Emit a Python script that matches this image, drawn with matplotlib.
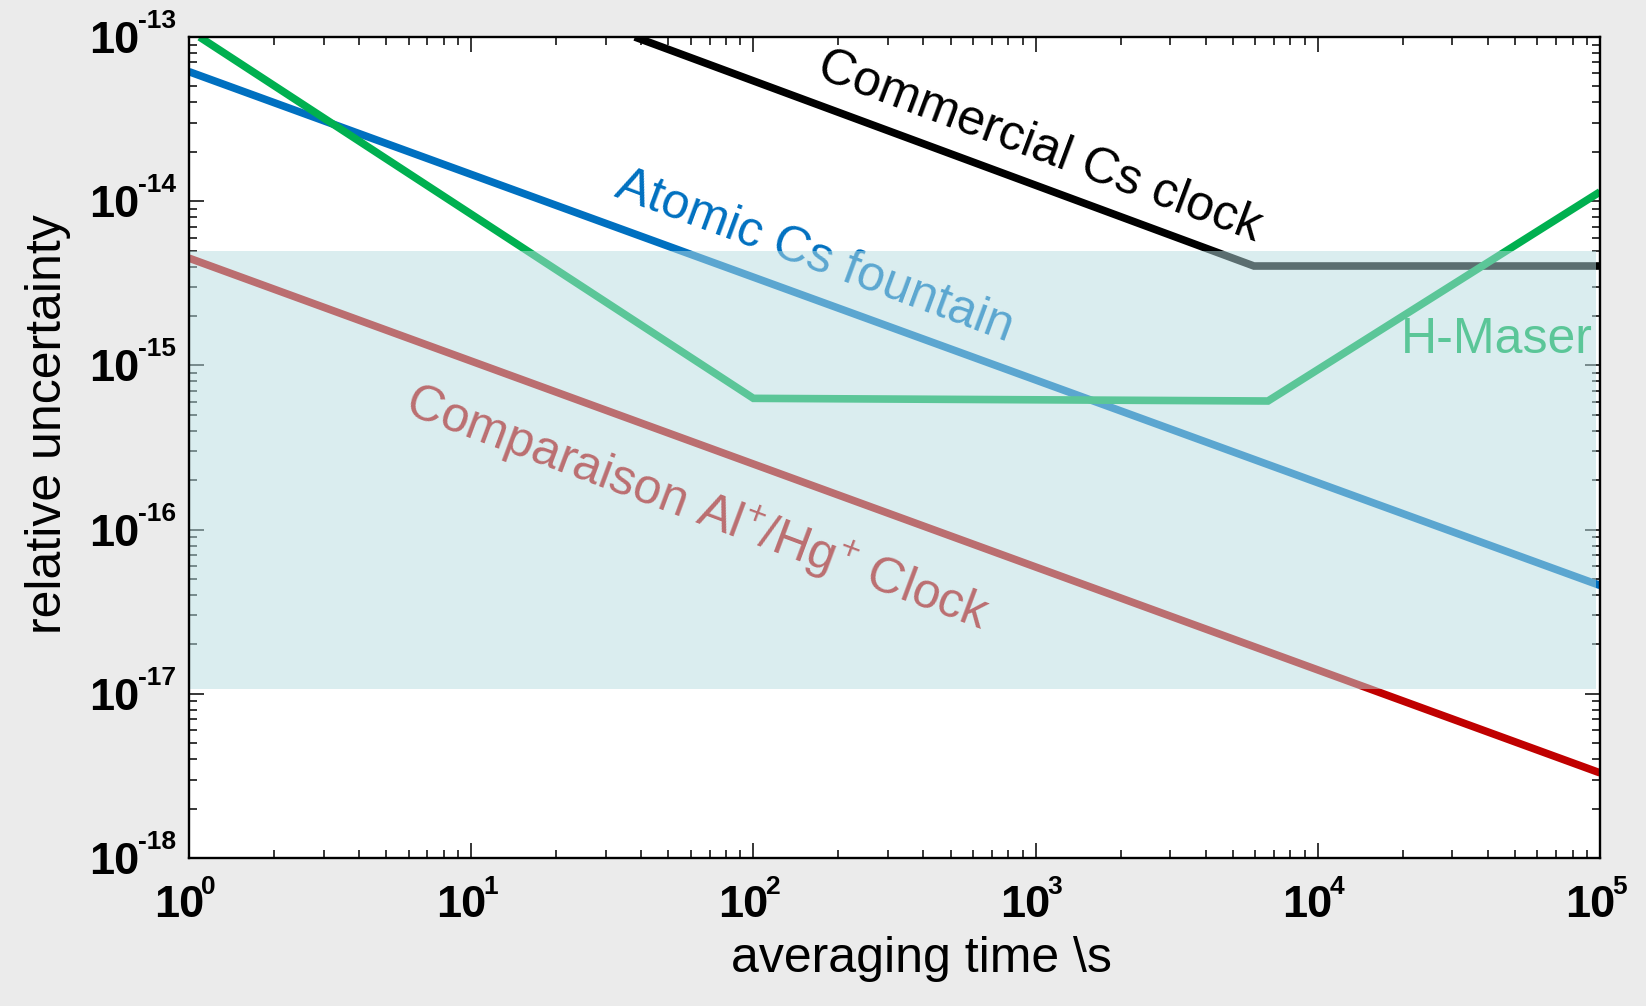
import matplotlib
matplotlib.use('Agg')
import matplotlib.pyplot as plt

plt.rcParams['font.family'] = ['Liberation Sans', 'DejaVu Sans']
plt.rcParams['mathtext.fontset'] = 'custom'
plt.rcParams['mathtext.rm'] = 'Liberation Sans'
plt.rcParams['mathtext.it'] = 'Liberation Sans:italic'
plt.rcParams['mathtext.bf'] = 'Liberation Sans:bold'

# ---- data ----
cs_commercial_x = [38, 5.94e3, 1e5]
cs_commercial_y = [1e-13, 4.03e-15, 4.03e-15]

cs_fountain_x = [1, 1e5]
cs_fountain_y = [6.15e-14, 4.57e-17]

h_maser_x = [1.09, 100, 6.66e3, 1e5]
h_maser_y = [1e-13, 6.3e-16, 6.07e-16, 1.14e-14]

al_hg_x = [1, 1e5]
al_hg_y = [4.5e-15, 3.3e-18]

band_low, band_high = 1.07e-17, 5.0e-15

x_ticks = [1, 1e1, 1e2, 1e3, 1e4, 1e5]
x_exponents = ['0', '1', '2', '3', '4', '5']
y_ticks = [1e-18, 1e-17, 1e-16, 1e-15, 1e-14, 1e-13]
y_exponents = ['-18', '-17', '-16', '-15', '-14', '-13']

# ---- figure ----
W, H = 1646, 1006
fig = plt.figure(figsize=(W / 100, H / 100), dpi=100, facecolor='#ebebeb')
L, R, T, B = 189, 1600, 37, 858
ax = fig.add_axes([L / W, 1 - B / H, (R - L) / W, (B - T) / H])
ax.set_facecolor('white')
ax.set_xscale('log')
ax.set_yscale('log')
ax.set_xlim(1, 1e5)
ax.set_ylim(1e-18, 1e-13)

lw = 5.5
line_kw = dict(lw=lw, solid_capstyle='butt', solid_joinstyle='miter', zorder=2)
ax.plot(cs_commercial_x, cs_commercial_y, color='black', **line_kw)
ax.plot(cs_fountain_x, cs_fountain_y, color='#0070c0', **line_kw)
ax.plot(h_maser_x, h_maser_y, color='#00b050', **line_kw)
ax.plot(al_hg_x, al_hg_y, color='#c00000', **line_kw)

txt_kw = dict(fontsize=36, rotation_mode='anchor', ha='center', va='center', zorder=3)
ax.text(1.03e3, 2.14e-14, 'Commercial Cs clock', color='black', rotation=-20.5, **txt_kw)
ax.text(165, 4.57e-15, 'Atomic Cs fountain', color='#0070c0', rotation=-20.3, **txt_kw)
ax.text(63, 1.35e-16, 'Comparaison Al$^{+}$/Hg$^{+}$ Clock', color='#c00000', rotation=-20.5, **txt_kw)
ax.text(4.31e4, 1.19e-15, 'H-Maser', color='#00b050', fontsize=36, ha='center', va='baseline', zorder=3)

ax.axhspan(band_low, band_high, xmin=0.001, xmax=0.9972, facecolor='#b7dde1', alpha=0.5, lw=0, zorder=4)

for s in ax.spines.values():
    s.set_linewidth(1.7)
    s.set_zorder(5)

ax.tick_params(which='both', direction='in', top=True, right=True,
               labelbottom=False, labelleft=False, width=1.1, color='black')
ax.tick_params(which='major', length=11)
ax.tick_params(which='minor', length=5.8)
ax.set_xticks(x_ticks)
ax.set_yticks(y_ticks)

lab_kw = dict(textcoords='offset pixels', va='baseline', fontweight='bold', annotation_clip=False)
for v, e in zip(y_ticks, y_exponents):
    ax.annotate('10', xy=(0, v), xycoords=('axes fraction', 'data'), xytext=(-50, -16),
                ha='right', fontsize=32.5, **lab_kw)
    ax.annotate(e, xy=(0, v), xycoords=('axes fraction', 'data'), xytext=(-51, 9),
                ha='left', fontsize=19, **lab_kw)
for v, e in zip(x_ticks, x_exponents):
    ax.annotate('10', xy=(v, 0), xycoords=('data', 'axes fraction'), xytext=(15, -59),
                ha='right', fontsize=32.5, **lab_kw)
    ax.annotate(e, xy=(v, 0), xycoords=('data', 'axes fraction'), xytext=(12, -36),
                ha='left', fontsize=19, **lab_kw)

fig.text(48 / W, 1 - 424.5 / H, 'relative uncertainty', rotation=90, fontsize=36,
         ha='center', va='center')
fig.text(921 / W, 1 - 972 / H, 'averaging time \\s', fontsize=36, ha='center', va='baseline')

fig.savefig('out.png', dpi=100, facecolor=fig.get_facecolor())
